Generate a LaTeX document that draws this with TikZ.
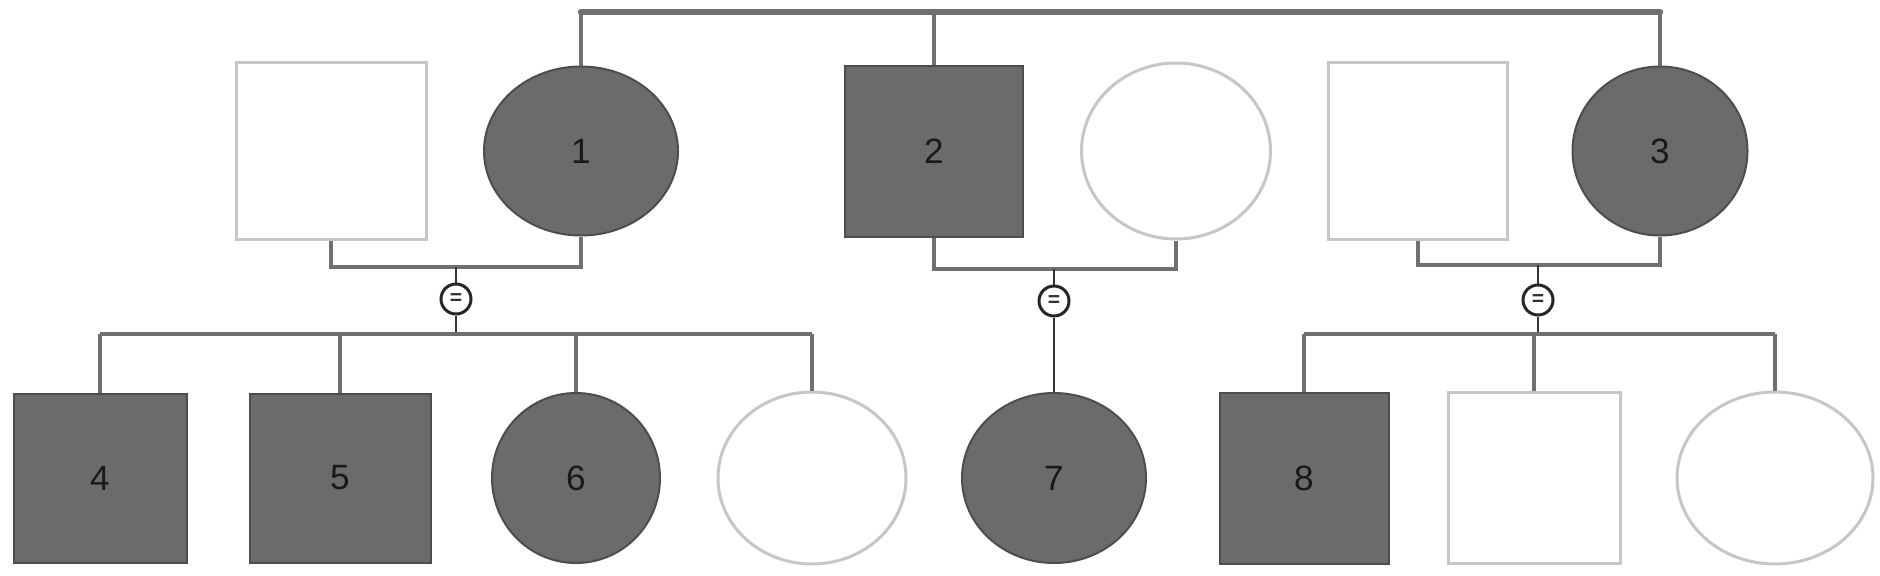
\documentclass[tikz,border=0pt]{standalone}
\usepackage{fontspec}
\setsansfont{Liberation Sans}
\usetikzlibrary{positioning, shapes.geometric, calc}
\definecolor{cfill}{HTML}{6B6B6B}
\definecolor{cedge}{HTML}{4D4D4D}
\definecolor{clight}{HTML}{C6C6C6}
\definecolor{cline}{HTML}{707070}
\tikzset{
  every picture/.style={font=\sffamily},
  person/.style 2 args={inner sep=0pt, minimum width=#1*0.2mm, minimum height=#2*0.2mm, font=\sffamily\fontsize{20}{24}\selectfont, text=black!90},
  male/.style={rectangle},
  female/.style={ellipse},
  aff/.style={fill=cfill, draw=cedge, line width=0.4mm},
  unaff/.style={fill=white, draw=clight, line width=0.6mm},
  link/.style={draw=cline, line width=0.8mm},
  gen/.style={draw=cline, line width=1.3mm, line cap=round},
  tie/.style={circle, draw=black!85, fill=white, line width=0.6mm, minimum size=6mm, inner sep=0pt, font=\sffamily\bfseries\large, text=black!80},
  stem/.style={draw=black!80, line width=0.5mm},
}

\begin{document}
\begin{tikzpicture}[x=0.2mm, y=-0.2mm]
  \useasboundingbox (0,0) rectangle (1880,575);
  % parents, three couples
  \node[male, unaff, person={190}{177}] (u1) at (331,151) {};
  \node[female, aff, person={194}{169}] (f1) at (581,151) {1};
  \node[male, aff, person={178}{171}] (m2) at (934,151) {2};
  \node[female, unaff, person={189}{176}] (u2) at (1176,151) {};
  \node[male, unaff, person={179}{177}] (u3) at (1418,151) {};
  \node[female, aff, person={175}{169}] (f3) at (1660,151) {3};
  % children
  \node[male, aff, person={173}{169}] (ch4) at (100,478) {4};
  \node[male, aff, person={181}{169}] (ch5) at (340,478) {5};
  \node[female, aff, person={168}{170}] (ch6) at (576,478) {6};
  \node[female, unaff, person={188}{172}] (u4) at (812,478) {};
  \node[female, aff, person={184}{170}] (ch7) at (1054,478) {7};
  \node[male, aff, person={169}{171}] (ch8) at (1304,478) {8};
  \node[male, unaff, person={172}{171}] (u5) at (1534,478) {};
  \node[female, unaff, person={196}{172}] (u6) at (1775,478) {};
  % sibship of 1, 2 and 3
  \coordinate (top) at (0,12);
  \draw[gen] (f1.north |- top) -- (f3.north |- top);
  \foreach \n in {f1,m2,f3}
    \draw[link] (\n.north |- top) -- (\n.north);
  % couple lines and ties
  \coordinate (c1) at (456,267);
  \coordinate (c2) at (1054,269);
  \coordinate (c3) at (1538,265);
  \node[tie] (k1) at (456,299) {=};
  \node[tie] (k2) at (1054,301) {=};
  \node[tie] (k3) at (1538,300) {=};
  \coordinate (s1) at (456,334);
  \coordinate (s3) at (1538,334);
  \draw[link] (u1.south) |- (c1) -| (f1.south);
  \draw[link] (m2.south) |- (c2) -| (u2.south);
  \draw[link] (u3.south) |- (c3) -| (f3.south);
  \draw[stem] (c1) -- (k1) -- (s1);
  \draw[stem] (c2) -- (k2) -- (ch7);
  \draw[stem] (c3) -- (k3) -- (s3);
  % sibship lines
  \draw[link] (s1 -| ch4.north) -- (s1 -| u4.north);
  \foreach \n in {ch4,ch5,ch6,u4}
    \draw[link] (s1 -| \n.north) -- (\n.north);
  \draw[link] (s3 -| ch8.north) -- (s3 -| u6.north);
  \foreach \n in {ch8,u5,u6}
    \draw[link] (s3 -| \n.north) -- (\n.north);
\end{tikzpicture}
\end{document}
